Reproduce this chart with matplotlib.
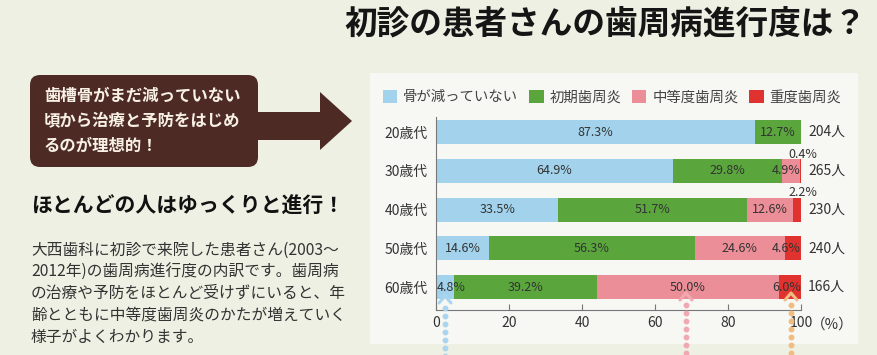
import matplotlib
matplotlib.use("Agg")
import matplotlib.pyplot as plt
from matplotlib.patches import Rectangle, FancyBboxPatch, Polygon
from matplotlib.lines import Line2D
from matplotlib.transforms import Affine2D
import numpy as np

plt.rcParams['font.family'] = ['Noto Sans CJK JP', 'DejaVu Sans']

# ---------------- data ----------------
age_groups = ['20歳代', '30歳代', '40歳代', '50歳代', '60歳代']
no_bone_loss = [87.3, 64.9, 33.5, 14.6, 4.8]
early = [12.7, 29.8, 51.7, 56.3, 39.2]
moderate = [0.0, 4.9, 12.6, 24.6, 50.0]
severe = [0.0, 0.4, 2.2, 4.6, 6.0]
patients = [204, 265, 230, 240, 166]
series_names = ['骨が減っていない', '初期歯周炎', '中等度歯周炎', '重度歯周炎']
x_ticks = [0, 20, 40, 60, 80, 100]

title = '初診の患者さんの歯周病進行度は？'
box_lines = ['歯槽骨がまだ減っていない', '頃から治療と予防をはじめ', 'るのが理想的！']
subheading = 'ほとんどの人はゆっくりと進行！'
body_lines = ['大西歯科に初診で来院した患者さん(2003～',
              '2012年)の歯周病進行度の内訳です。歯周病',
              'の治療や予防をほとんど受けずにいると、年',
              '齢とともに中等度歯周炎のかたが増えていく',
              '様子がよくわかります。']

colors = ['#a3d3ec', '#5aa63c', '#ec8e98', '#e0332f']

W, H = 878, 355
fig = plt.figure(figsize=(W / 100, H / 100), dpi=100, facecolor='#eef0e3')
# pixel transform, origin top-left
T = Affine2D().scale(1, -1).translate(0, H).scale(1 / 100) + fig.dpi_scale_trans

# chart panel
fig.patches.append(Rectangle((370, 73), 488, 271, transform=T,
                             facecolor='#f7f8f4', edgecolor='none', zorder=-5))

# title
fig.text(866, 24, title, transform=T, ha='right', va='center',
         fontsize=23.5, fontweight='bold', color='#151515')

# brown arrow box
brown = '#4d2b24'
fig.patches.append(FancyBboxPatch((30, 75), 228, 92, transform=T,
                                  boxstyle='round,pad=0,rounding_size=10',
                                  facecolor=brown, edgecolor='none', zorder=1))
fig.patches.append(Polygon([(250, 112), (320, 112), (320, 92), (352, 121),
                            (320, 150), (320, 140), (250, 140)], closed=True,
                           transform=T, facecolor=brown, edgecolor='none', zorder=1))
for i, line in enumerate(box_lines):
    fig.text(44, 96 + i * 25, line, transform=T, ha='left', va='center',
             fontsize=11.8, fontweight='bold', color='#f8f1e6', zorder=2)

# subheading and body text
fig.text(31, 206, subheading, transform=T, ha='left', va='center',
         fontsize=15, fontweight='bold', color='#111111')
for i, line in enumerate(body_lines):
    fig.text(31, 250 + i * 21.8, line, transform=T, ha='left', va='center',
             fontsize=11.3, color='#333333')

# ---------------- chart ----------------
ax = fig.add_axes([436 / W, 1 - 310 / H, 365 / W, 193 / H])
ax.set_facecolor('none')
ax.set_zorder(2)
y = np.arange(len(age_groups))
series = [no_bone_loss, early, moderate, severe]
left = np.zeros(len(age_groups))
handles = []
for k, (vals, c, name) in enumerate(zip(series, colors, series_names)):
    vals = np.array(vals)
    b = ax.barh(y, vals, left=left, height=0.62, color=c, label=name, zorder=2)
    handles.append(b)
    for i, v in enumerate(vals):
        if v <= 0:
            continue
        center = left[i] + v / 2
        txt = f'{v:.1f}%'
        if v < 3:
            ax.text(100.6, i - 0.43, txt, ha='center', va='center',
                    fontsize=9, color='#333333', zorder=3)
        elif v < 8 and k == 0:
            ax.text(left[i] + 0.1, i, txt, ha='left', va='center',
                    fontsize=9, color='#333333', zorder=3)
        elif v < 8:
            ax.text(99.9, i, txt, ha='right', va='center',
                    fontsize=9, color='#333333', zorder=3)
        else:
            ax.text(center, i, txt, ha='center', va='center',
                    fontsize=9, color='#333333', zorder=3)
    left = left + vals

for i, n in enumerate(patients):
    ax.annotate(f'{n}人', xy=(100, i), xycoords='data', xytext=(5, 0),
                textcoords='offset points', ha='left', va='center',
                fontsize=10, color='#333333')

ax.set_xlim(0, 100)
ax.set_ylim(len(age_groups) - 0.41, -0.39)
ax.set_yticks(y)
ax.set_yticklabels(age_groups, fontsize=10, color='#333333')
ax.set_xticks(x_ticks)
ax.set_xticklabels([str(t) for t in x_ticks], fontsize=10, color='#333333')
ax.tick_params(axis='y', length=0, pad=6)
ax.tick_params(axis='x', direction='in', length=4, width=0.8, color='#777777', pad=4)
for s in ['top', 'right']:
    ax.spines[s].set_visible(False)
for s in ['left', 'bottom']:
    ax.spines[s].set_color('#777777')
    ax.spines[s].set_linewidth(0.8)
ax.annotate('（%）', xy=(1, 0), xycoords='axes fraction', xytext=(7, -10.5),
            textcoords='offset points', ha='left', va='center',
            fontsize=10.5, color='#333333')

fig.legend(handles, series_names, loc='center left',
           bbox_to_anchor=(383 / W, 1 - 97 / H), ncol=4, frameon=False,
           fontsize=10.4, handlelength=1.0, handleheight=1.0,
           handletextpad=0.4, columnspacing=0.75, borderpad=0,
           borderaxespad=0, labelcolor='#444444')

# decorative dotted arrows below the chart
for x, c, top in [(445, '#a9d6ee', 296), (686, '#f0a9b1', 293), (791, '#f1bb82', 293)]:
    ys = np.arange(top + 12, H + 4, 8.0)
    fig.add_artist(Line2D([x] * len(ys), ys, ls='none', marker='o', ms=3.2,
                          color=c, transform=T, zorder=5))
    fig.add_artist(Line2D([x - 6, x, x + 6], [top + 7, top, top + 7], lw=2.2,
                          color=c, transform=T, zorder=5, solid_capstyle='round'))

fig.savefig('out.png', dpi=100, facecolor=fig.get_facecolor())
